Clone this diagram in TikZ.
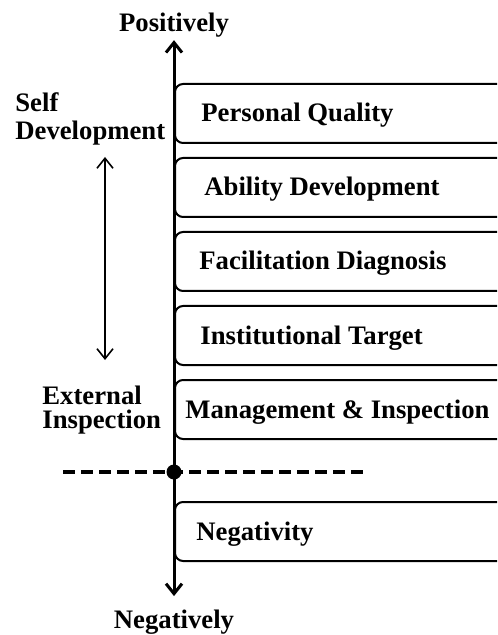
\documentclass[tikz,border=0pt]{standalone}
\usepackage{fontspec}
\setmainfont{Liberation Serif}
\usetikzlibrary{arrows.meta}
\tikzset{
	lbl/.style={font=\fontsize{13.35}{14}\selectfont\bfseries,inner sep=0pt},
	stage/.style={draw,line width=1pt,rounded corners=4pt},
	axis/.style={line width=1.5pt},
	side/.style={line width=.8pt},
	cut/.style={line width=2pt,dash pattern=on 6pt off 3pt},
	dot/.style={circle,fill,inner sep=0pt,minimum size=7.5pt},
}
\begin{document}
\begin{tikzpicture}[x=.5pt,y=-.5pt,>={Straight Barb[length=5pt,width=8pt]}]
		\clip (0,0) rectangle (497,635);
		\foreach \y/\dx/\name/\txt in {84/26/pq/Personal Quality,158/29/ad/Ability Development,232/24/fd/Facilitation Diagnosis,306/25/it/Institutional Target,380/10/mi/Management \& Inspection,502/21/ng/Negativity}{
			\draw[stage] (175,\y) rectangle ++(360,59);
			\node[lbl,anchor=base west] (\name) at (175+\dx,\y+38) {\txt};
		}
		\node[lbl,anchor=base] (pos) at (174,32) {Positively};
		\node[lbl,anchor=base] (neg) at (174,628) {Negatively};
		\node[lbl,align=left,anchor=north west] (self) at (15,92) {Self\\Development};
		\node[lbl,align=left,anchor=north west,font=\fontsize{13.35}{12}\selectfont\bfseries] (ext) at (42,386) {External\\Inspection};
		\coordinate (up) at (105,157);
		\coordinate (down) at (105,360);
		\draw[side,<->] (up)--(down);
		\coordinate (cutl) at (63,472);
		\coordinate (cutr) at (363,472);
		\draw[cut] (cutl)--(cutr);
		\draw[axis,<->] ([yshift=-1pt]pos.south)--([yshift=6.5pt]neg.north);
		\node[dot] (mid) at (174,472) {};
		%\draw[ultra thin,cyan](0,0)grid[step=50](497,635);
\end{tikzpicture}
\end{document}
